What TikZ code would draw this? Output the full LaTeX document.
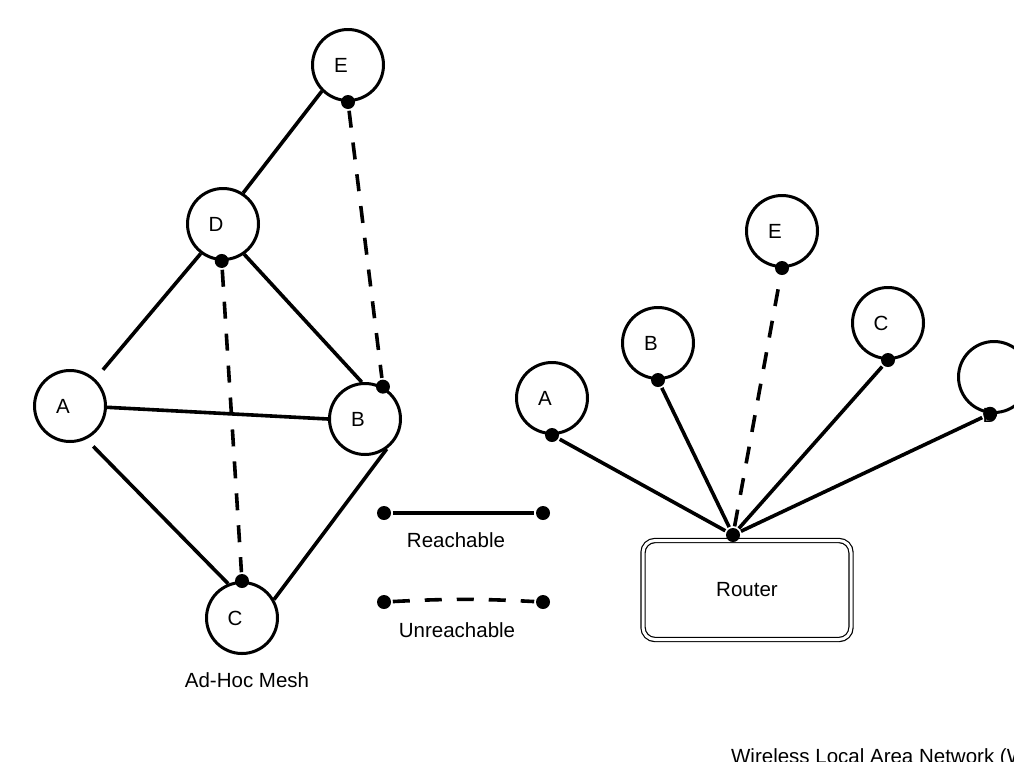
\documentclass[tikz,border=0pt]{standalone}
\usepackage{fontspec}
\setmainfont{Liberation Sans}
\usetikzlibrary{positioning}

\begin{document}
\begin{tikzpicture}[x=1pt, y=-1pt, line width=3.6pt,
                    font=\fontsize{20.5}{24}\selectfont,
                    main node/.style={circle,draw,line width=3pt,minimum size=71pt,inner sep=0pt,
                                      execute at begin node={\hspace*{-14pt}}},
                    end dot/.style={circle,fill,inner sep=0pt,minimum size=14pt},
                    unreach/.style={dash pattern=on 17pt off 15pt}]
  \useasboundingbox (0,0) rectangle (1014,761);

  % ad-hoc mesh
  \node[main node] (e) at (348,65) {E};
  \node[main node] (d) at (223,224) {D};
  \node[main node] (a) at (70,406) {A};
  \node[main node] (b) at (365,419) {B};
  \node[main node] (c) at (242,618) {C};
  \node (mesh) at (247,680) {Ad-Hoc Mesh};

  \path (d.57) edge (e.225)
    (a.47) edge [shorten <=12pt] (d.233)
    (a.-2) edge (b.180)
    (a.-64) edge [shorten <=10pt] (c.112)
    (d.-55) edge (b.95)
    (c.30) edge (b.-54)
;
  \node[end dot] (e1) at (e.270) {};
  \node[end dot] (b1) at (b.61) {};
  \node[end dot] (d1) at (d.268) {};
  \node[end dot] (c1) at (c.90) {};
  \draw[unreach] (e1) -- (b1);
  \draw[unreach] (d1) -- (c1);

  % legend
  \node[end dot] (r1) at (384,513) {};
  \node[end dot] (r2) at (543,513) {};
  \draw (r1) -- (r2);
  \node (lreach) at (456,540) {Reachable};
  \node[end dot] (u1) at (384,602) {};
  \node[end dot] (u2) at (543,602) {};
  \draw[unreach] (u1) to [bend left=3] (u2);
  \node (lunreach) at (457,630) {Unreachable};

  % wlan
  \node[main node] (wa) at (552,398) {A};
  \node[main node] (wb) at (658,343) {B};
  \node[main node] (we) at (782,231) {E};
  \node[main node] (wc) at (888,323) {C};
  \node[main node, label={[xshift=-4pt,yshift=-38pt]center:D}] (wd) at (994,377) {};
  \node[draw, double, double distance=3pt, line width=1.2pt, rounded corners=12pt,
        minimum width=208pt, minimum height=99pt] (router) at (747,590) {Router};

  \node[end dot] (hub) at (733,535) {};
  \node[end dot] (wa1) at (wa.270) {};
  \node[end dot] (wb1) at (wb.270) {};
  \node[end dot] (we1) at (we.270) {};
  \node[end dot] (wc1) at (wc.270) {};
  \node[end dot] (wd1) at (wd.264) {};
  \draw (hub) -- (wa1);
  \draw (hub) -- (wb1);
  \draw[unreach] (hub) -- (we1);
  \draw (hub) -- (wc1);
  \draw (hub) -- (wd1);

  \node[anchor=base west] (wlan) at (726,763) {Wireless Local Area Network (WLAN)};
\end{tikzpicture}
\end{document}
